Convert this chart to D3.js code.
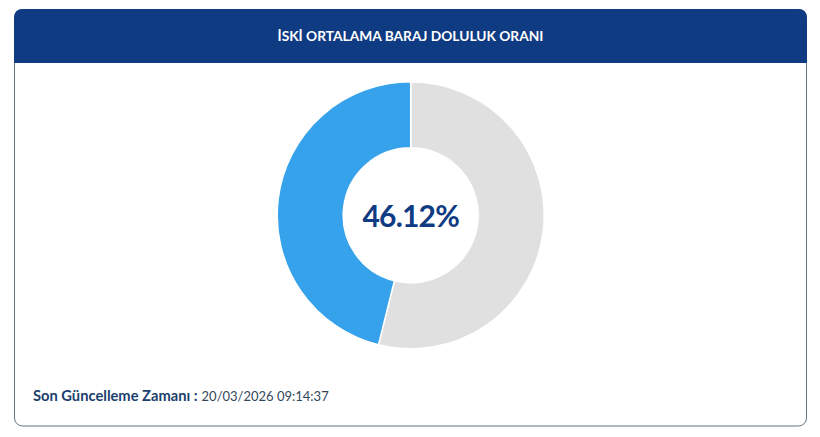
<!DOCTYPE html>
<html>
<head>
<meta charset="utf-8">
<script src="https://cdn.jsdelivr.net/npm/d3@7"></script>
<style>
  html, body { margin: 0; padding: 0; background: #fff; }
  svg { display: block; }
</style>
</head>
<body>
<svg id="chart" width="820" height="437"></svg>
<script>
var labels = ["Boş", "Dolu"];
var values = [53.88, 46.12];
var colors = ["#e0e0e0", "#36a2eb"];
var titleText = "İSKİ ORTALAMA BARAJ DOLULUK ORANI";
var centerText = "46.12%";
var footLabel = "Son Güncelleme Zamanı :";
var footValue = "20/03/2026 09:14:37";

var font = "Lato, 'Noto Sans', sans-serif";
var svg = d3.select("#chart");

// card
svg.append("rect")
  .attr("x", 14.5).attr("y", 9.5)
  .attr("width", 792).attr("height", 416.5)
  .attr("rx", 8)
  .attr("fill", "#fff")
  .attr("stroke", "#5f7486")
  .attr("stroke-width", 1);

// header, rounded on the top corners only
svg.append("path")
  .attr("d", "M14,63 V18 Q14,9 23,9 H798 Q807,9 807,18 V63 Z")
  .attr("fill", "#0f3b82");

svg.append("text")
  .attr("x", 410.5).attr("y", 40.5)
  .attr("text-anchor", "middle")
  .attr("font-family", font)
  .attr("font-size", 13.75)
  .attr("font-weight", 700)
  .attr("fill", "#fff")
  .text(titleText);

// doughnut
var pie = d3.pie().sort(null).value(function(d) { return d; });
var arc = d3.arc().innerRadius(67.5).outerRadius(133.5);
var g = svg.append("g").attr("transform", "translate(410.7,215.3)");

g.selectAll("path")
  .data(pie(values))
  .enter().append("path")
  .attr("d", arc)
  .attr("fill", function(d, i) { return colors[i]; })
  .attr("stroke", "#fff")
  .attr("stroke-width", 1.5);

g.append("text")
  .attr("y", 11.5)
  .attr("text-anchor", "middle")
  .attr("font-family", font)
  .attr("font-size", 30)
  .attr("font-weight", 700)
  .attr("letter-spacing", -0.8)
  .attr("fill", "#0f3b82")
  .text(centerText);

// footer
var foot = svg.append("text")
  .attr("x", 33).attr("y", 401)
  .attr("font-family", font);
foot.append("tspan")
  .attr("font-size", 14.7)
  .attr("font-weight", 700)
  .attr("fill", "#1b3f6e")
  .text(footLabel);
foot.append("tspan")
  .attr("dx", 4)
  .attr("font-size", 13)
  .attr("fill", "#33475b")
  .text(footValue);
</script>
</body>
</html>
